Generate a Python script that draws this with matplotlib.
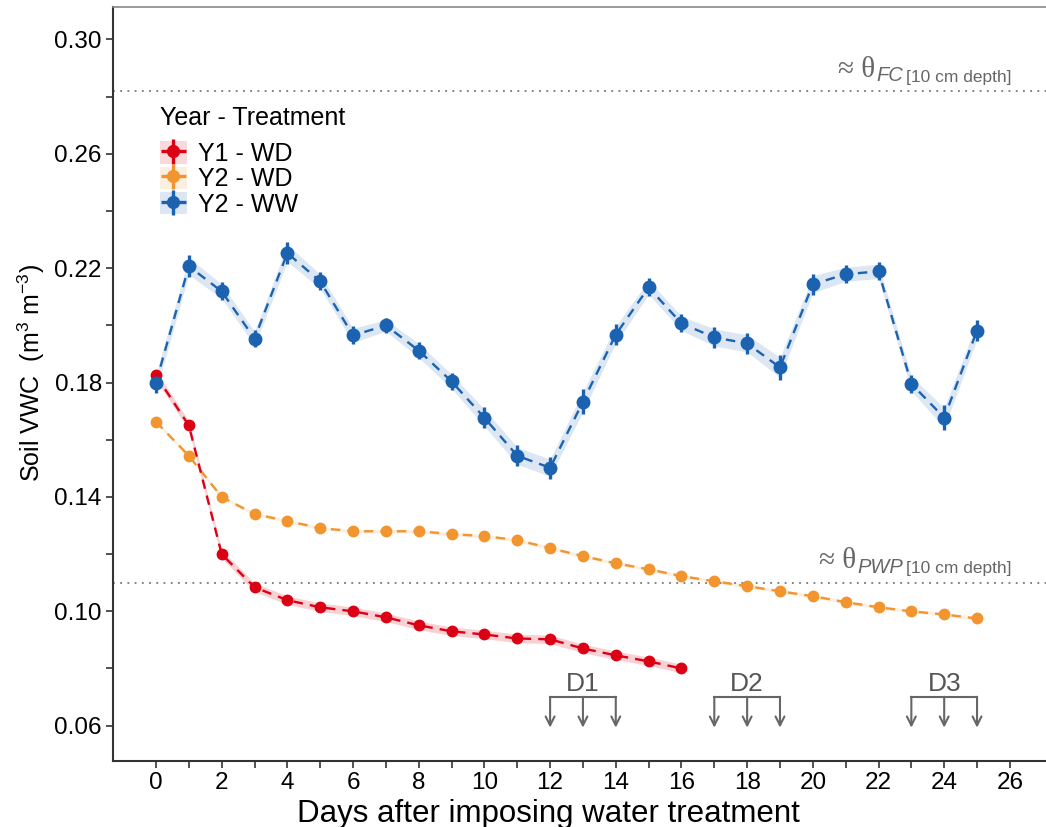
import numpy as np
import matplotlib
matplotlib.use("Agg")
import matplotlib.pyplot as plt
from matplotlib.patches import Patch
from matplotlib.lines import Line2D

plt.rcParams['font.family'] = ['Liberation Sans', 'DejaVu Sans']
plt.rcParams['mathtext.fontset'] = 'custom'
plt.rcParams['mathtext.rm'] = 'Liberation Sans'
plt.rcParams['mathtext.it'] = 'Liberation Sans:italic'

# data
days_y1 = list(range(0, 17))
vwc_y1_wd = [0.1825, 0.1650, 0.1200, 0.1084, 0.1039, 0.1014, 0.1000, 0.0979, 0.0951,
             0.0930, 0.0919, 0.0905, 0.0902, 0.0870, 0.0846, 0.0825, 0.0800]
se_y1_wd = [0.0016, 0.0016, 0.0015, 0.0015, 0.0015, 0.0015, 0.0015, 0.0015, 0.0015,
            0.0015, 0.0015, 0.0015, 0.0015, 0.0015, 0.0015, 0.0015, 0.0015]

days_y2 = list(range(0, 26))
vwc_y2_wd = [0.1663, 0.1544, 0.1400, 0.1340, 0.1316, 0.1291, 0.1280, 0.1280, 0.1280,
             0.1270, 0.1263, 0.1249, 0.1221, 0.1193, 0.1168, 0.1147, 0.1123, 0.1105,
             0.1088, 0.1070, 0.1053, 0.1032, 0.1014, 0.1000, 0.0989, 0.0975]
se_y2_wd = [0.0006] * 26

vwc_y2_ww = [0.1800, 0.2207, 0.2119, 0.1954, 0.2253, 0.2154, 0.1965, 0.2000, 0.1912,
             0.1804, 0.1677, 0.1544, 0.1502, 0.1733, 0.1968, 0.2133, 0.2007, 0.1958,
             0.1937, 0.1853, 0.2144, 0.2179, 0.2189, 0.1796, 0.1677, 0.1982]
se_y2_ww = [0.0030, 0.0030, 0.0025, 0.0025, 0.0030, 0.0025, 0.0025, 0.0020, 0.0025,
            0.0025, 0.0030, 0.0030, 0.0030, 0.0035, 0.0030, 0.0025, 0.0025, 0.0030,
            0.0030, 0.0035, 0.0030, 0.0025, 0.0025, 0.0025, 0.0035, 0.0030]

theta_fc = 0.282
theta_pwp = 0.110

drought_days = [[12, 13, 14], [17, 18, 19], [23, 24, 25]]
drought_labels = ['D1', 'D2', 'D3']

red = '#DC0014'
orange = '#F2952E'
blue = '#1B63B0'

fig = plt.figure(figsize=(10.46, 8.27), dpi=100)
ax = fig.add_axes([0.108, 0.080, 0.892, 0.912])

#reference lines
gray_txt = '#666666'
for yv, sub in [(theta_fc, 'FC'), (theta_pwp, 'PWP')]:
    ax.axhline(yv, color='#777777', ls=(0, (1, 3)), lw=1.3, zorder=1)
    t3 = ax.text(26.05, yv + 0.0022, '[10 cm depth]', ha='right', va='bottom',
                 fontsize=12.5, color=gray_txt)
    t2 = ax.annotate(sub, xy=(0, 0), xycoords=t3, xytext=(-2, -0.5), textcoords='offset points',
                     ha='right', va='bottom', fontsize=14.5, style='italic', color=gray_txt)
    ax.annotate('\u2248 \u03b8', xy=(0, 0), xycoords=t2, xytext=(-1, 2), textcoords='offset points',
                ha='right', va='bottom', fontsize=21, color=gray_txt,
                family=['Liberation Serif', 'DejaVu Serif'])

#series
def draw(days, vals, se, col, ms, eb, a):
    d = np.array(days)
    v = np.array(vals)
    s = np.array(se)
    ax.fill_between(d, v - s, v + s, color=col, alpha=a, lw=0, zorder=2)
    ax.plot(d, v, ls=(0, (4, 3)), color=col, lw=1.7, zorder=3)
    if eb:
        ax.errorbar(d, v, yerr=s * 1.25, fmt='o', color=col, ms=ms, elinewidth=2.4,
                    capsize=0, zorder=4)
    else:
        ax.plot(d, v, 'o', color=col, ms=ms, zorder=4)

draw(days_y2, vwc_y2_wd, se_y2_wd, orange, 7.5, False, 0.15)
draw(days_y2, vwc_y2_ww, se_y2_ww, blue, 9, True, 0.15)
draw(days_y1, vwc_y1_wd, se_y1_wd, red, 7.5, False, 0.18)

#drought brackets
bar_y = 0.0701
tip_y = 0.0593
for dd, lab in zip(drought_days, drought_labels):
    ax.plot([dd[0], dd[-1]], [bar_y, bar_y], color='#666666', lw=1.5, zorder=5)
    for d in dd:
        ax.annotate('', xy=(d, tip_y), xytext=(d, bar_y),
                    arrowprops=dict(arrowstyle='->', color='#666666', lw=1.5,
                                    shrinkA=0, shrinkB=0, mutation_scale=16))
    ax.text(dd[1], bar_y + 0.0003, lab, ha='center', va='bottom', fontsize=19, color='#555555')

ax.set_xlim(-1.31, 27.1)
ax.set_ylim(0.0477, 0.3115)
ax.set_xticks(np.arange(0, 27, 2))
ax.set_xticks(np.arange(1, 27, 2), minor=True)
ax.set_yticks(np.arange(0.06, 0.301, 0.04))
ax.set_yticks(np.arange(0.08, 0.30, 0.04), minor=True)
ax.set_yticklabels(['%.2f' % v for v in np.arange(0.06, 0.301, 0.04)])
ax.tick_params(which='both', direction='out', length=5, width=1.2, color='#333333',
               labelsize=17.5, labelcolor='black')
ax.tick_params(axis='x', pad=3)
ax.tick_params(axis='y', pad=3)

for side in ['left', 'bottom']:
    ax.spines[side].set_color('#333333')
    ax.spines[side].set_linewidth(1.5)
ax.spines['top'].set_color('#888888')
ax.spines['top'].set_linewidth(1.2)
ax.spines['right'].set_visible(False)

ax.set_xlabel('Days after imposing water treatment', fontsize=22.5)
ax.xaxis.set_label_coords(0.467, -0.05)
ax.set_ylabel('Soil VWC  (m$^{3}$ m$^{-3}$)', fontsize=18)
ax.yaxis.set_label_coords(-0.071, 0.515)

#legend
handles = []
for col in [red, orange, blue]:
    handles.append((Patch(facecolor=col, alpha=0.15, edgecolor='none'),
                    Line2D([], [], marker='+', color=col, ms=18, mew=2.4, ls='none'),
                    Line2D([], [], marker='o', color=col, ms=8.5, ls='none')))
leg = ax.legend(handles, ['Y1 - WD', 'Y2 - WD', 'Y2 - WW'], title='Year - Treatment',
                loc='upper left', bbox_to_anchor=(0.05, 0.868), frameon=False,
                fontsize=18, title_fontsize=18, handlelength=1.1, handleheight=1.0,
                handletextpad=0.45, labelspacing=0.02, borderaxespad=0, borderpad=0)
leg._legend_box.align = 'left'
leg._legend_box.sep = 8

plt.savefig('out.png', dpi=100)
